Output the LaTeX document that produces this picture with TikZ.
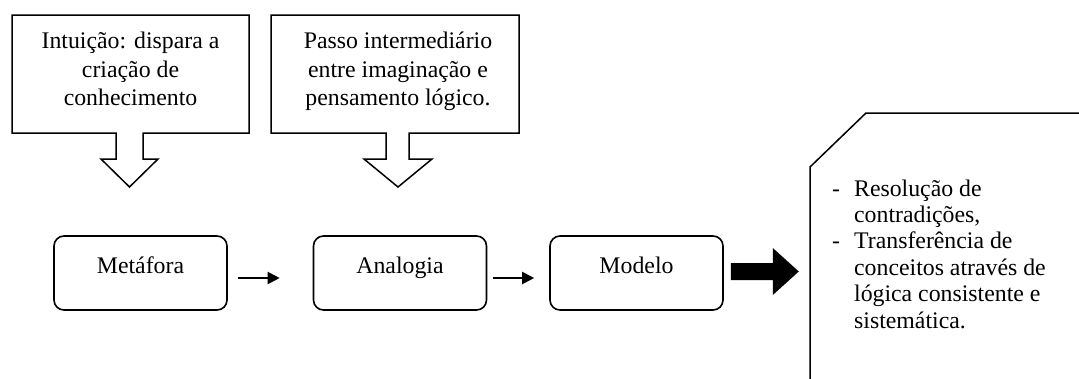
\documentclass[tikz,border=0pt]{standalone}
\usepackage{fontspec}
\setmainfont{Liberation Serif}
\usetikzlibrary{arrows.meta}
\begin{document}
\begin{tikzpicture}[x=1pt,y=-1pt,
  outline/.style={draw=black,line width=1.5pt,line join=miter},
  roundbox/.style={draw=black,line width=1.6pt,rounded corners=10pt,minimum width=173pt,minimum height=74pt,inner sep=0pt},
  lbl/.style={font=\fontsize{23.8}{28.5}\selectfont,align=center,inner sep=0pt},
  flow/.style={line width=2pt,-{Triangle[length=12pt,width=12pt]}}]
\useasboundingbox (0,0) rectangle (1079,378);
\clip (0,0) rectangle (1079,378);
% top callout 1
\draw[outline] (12,15) -- (249,15) -- (249,133) -- (143,133) -- (143,159) -- (158,159)
  -- (129.5,187) -- (101,159) -- (116,159) -- (116,133) -- (12,133) -- cycle;
\node[lbl,anchor=north] (t1) at (130.5,32) {Intuição: dispara a\\criação de\\conhecimento};
% top callout 2
\draw[outline] (271,15) -- (519,15) -- (519,133) -- (409,133) -- (409,159) -- (432,159)
  -- (398,187) -- (364,159) -- (386,159) -- (386,133) -- (271,133) -- cycle;
\node[lbl,anchor=north] (t2) at (398,32) {Passo intermediário\\entre imaginação e\\pensamento lógico.};
% bottom boxes
\node[roundbox] (meta) at (140.5,273) {};
\node[roundbox] (ana) at (400,273) {};
\node[roundbox] (mod) at (636.5,273) {};
\node[lbl,anchor=base] (metaT) at (140.5,273) {Metáfora};
\node[lbl,anchor=base] (anaT) at (400,273) {Analogia};
\node[lbl,anchor=base] (modT) at (636.5,273) {Modelo};
% connectors
\draw[flow] ([xshift=10pt,yshift=-5pt]meta.east) -- ([xshift=-33pt,yshift=-5pt]ana.west);
\draw[flow] ([xshift=6pt,yshift=-5pt]ana.east) -- ([xshift=-15pt,yshift=-5pt]mod.west);
% fat arrow
\coordinate (fa) at ([xshift=7pt,yshift=1.5pt]mod.east);
\fill[black] (fa) ++(0,-8.5) -- ++(42,0) -- ++(0,-15) -- ++(26,23.5) -- ++(-26,23.5) -- ++(0,-15) -- ++(-42,0) -- cycle;
% right box
\draw[outline] (810,395) -- (810,167) -- (866,113) -- (1095,113);
\node[font=\fontsize{23.8}{26.4}\selectfont,anchor=north west,inner sep=0pt] (rt) at (832,177.5)
{\begin{tabular}{@{}l@{\hspace{14pt}}l@{}}
- & Resolução de\\
 & contradições,\\
- & Transferência de\\
 & conceitos através de\\
 & lógica consistente e\\
 & sistemática.
\end{tabular}};
\end{tikzpicture}
\end{document}
